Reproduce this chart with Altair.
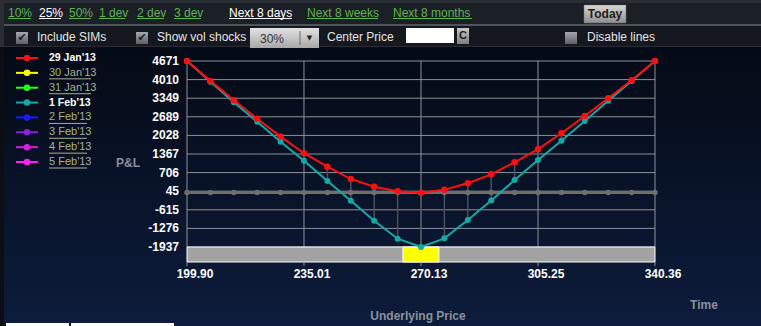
import altair as alt
import pandas as pd

# ---------------- data ----------------
prices = [199.90, 206.92, 213.95, 220.97, 227.99, 235.01, 242.04, 249.06, 256.08, 263.11,
          270.13, 277.15, 284.18, 291.20, 298.22, 305.25, 312.27, 319.29, 326.32, 333.34, 340.36]
pnl_29jan = [4671, 3965, 3275, 2620, 1985, 1395, 915, 478, 205, 40, -8,
             98, 326, 645, 1072, 1540, 2105, 2715, 3345, 3990, 4671]
pnl_1feb = [4671, 3935, 3203, 2514, 1804, 1129, 407, -293, -1003, -1643, -1937,
            -1629, -978, -282, 440, 1154, 1839, 2539, 3260, 3960, 4671]
pnl_zero = [0, 0, 0, 0, 0, 0, 0, 0, 0, 0, 0, 0, 0, 0, 0, 0, 0, 0, 0, 0, 0]

y_tick_values = [4671, 4010, 3349, 2689, 2028, 1367, 706, 45, -615, -1276, -1937]
x_tick_values = [199.90, 235.01, 270.13, 305.25, 340.36]
x_tick_labels = ["199.90", "235.01", "270.13", "305.25", "340.36"]

legend_labels = ["29 Jan'13", "30 Jan'13", "31 Jan'13", "1 Feb'13",
                 "2 Feb'13", "3 Feb'13", "4 Feb'13", "5 Feb'13"]
legend_colors = ["#ff1010", "#ffff00", "#22ff22", "#14a8a8",
                 "#1a1aff", "#8a22d8", "#cc22dd", "#ff22ff"]
legend_active = [True, False, False, True, False, False, False, False]

price_range = [199.90, 340.36]
sim_window = [264.70, 275.50]

menu_items = ["10%", "25%", "50%", "1 dev", "2 dev", "3 dev",
              "Next 8 days", "Next 8 weeks", "Next 8 months"]
menu_active = [False, True, False, False, False, False, True, False, False]
option_labels = ["Include SIMs", "Show vol shocks", "Center Price", "Disable lines"]

# ---------------- layout ----------------
W, H = 761, 326
XS = alt.Scale(domain=[price_range[0], price_range[1]], range=[187, 655], nice=False, zero=False)
YS = alt.Scale(domain=[-1937, 4671], range=[247, 61], nice=False, zero=False)
PX = alt.Scale(domain=[0, W], range=[0, W], nice=False, zero=False)
PY = alt.Scale(domain=[0, H], range=[0, H], nice=False, zero=False)
LY = alt.Scale(domain=[0, 7], range=[58, 162], nice=False, zero=False)
LYU = alt.Scale(domain=[0, 7], range=[64, 168], nice=False, zero=False)

GREEN = "#5fb34f"
LABEL_GRAY = "#8a909b"
FONT = "Liberation Sans"
NARROW = "Liberation Sans Narrow, Liberation Sans"

ONE = pd.DataFrame({"k": [0]})


def grad(top, bottom):
    return alt.Gradient(gradient="linear", x1=0, x2=0, y1=0, y2=1,
                        stops=[alt.GradientStop(color=top, offset=0),
                               alt.GradientStop(color=bottom, offset=1)])


def box(x, x2, y, y2, fill, **kw):
    return alt.Chart(ONE).mark_rect(fill=fill, **kw).encode(
        x=alt.value(x), x2=alt.value(x2), y=alt.value(y), y2=alt.value(y2))


def ptext(rows, **kw):
    df = pd.DataFrame(rows, columns=["t", "x", "y", "c"])
    return alt.Chart(df).mark_text(baseline="middle", **kw).encode(
        x=alt.X("x:Q", scale=PX, axis=None),
        y=alt.Y("y:Q", scale=PY, axis=None),
        text="t:N",
        color=alt.Color("c:N", scale=None))


def prules(rows, **kw):
    df = pd.DataFrame(rows, columns=["x", "x2", "y", "y2", "c"])
    return alt.Chart(df).mark_rule(**kw).encode(
        x=alt.X("x:Q", scale=PX, axis=None), x2="x2:Q",
        y=alt.Y("y:Q", scale=PY, axis=None), y2="y2:Q",
        color=alt.Color("c:N", scale=None))


layers = []

# background
layers.append(box(0, W, 0, H, grad("#03070e", "#0d1c3c")))
layers.append(box(0, 4, 47, H, "#0b0f15"))
# toolbar
layers.append(box(0, W, 0, 47, "#2a2e34"))
layers.append(box(4, W, 3, 24, "#1b2027"))
layers.append(box(4, W, 24, 26, "#4f555d"))
layers.append(box(4, W, 26, 46, "#15191f"))
# bottom tabs
layers.append(box(6, 69, 323, H, "#ffffff"))
layers.append(box(71, 174, 323, H, "#ffffff"))

# grid
hgrid = pd.DataFrame({"v": y_tick_values, "a": price_range[0], "b": price_range[1]})
layers.append(alt.Chart(hgrid).mark_rule(color="#8e9197", strokeWidth=1).encode(
    y=alt.Y("v:Q", scale=YS, axis=None),
    x=alt.X("a:Q", scale=XS, axis=None), x2="b:Q"))
vgrid = pd.DataFrame({"p": x_tick_values, "lo": -1937, "hi": 4671})
layers.append(alt.Chart(vgrid).mark_rule(color="#8e9197", strokeWidth=1).encode(
    x=alt.X("p:Q", scale=XS, axis=None),
    y=alt.Y("lo:Q", scale=YS, axis=None), y2="hi:Q"))

# bottom price strip
strip = pd.DataFrame({"a": [price_range[0], sim_window[0]], "b": [price_range[1], sim_window[1]],
                      "f": ["#a3a3a3", "#ffff00"]})
layers.append(alt.Chart(strip).mark_rect(stroke="#ffffff", strokeWidth=1).encode(
    x=alt.X("a:Q", scale=XS, axis=None), x2="b:Q",
    y=alt.value(247), y2=alt.value(262),
    fill=alt.Fill("f:N", scale=None)))
ticks = pd.DataFrame({"p": x_tick_values})
layers.append(alt.Chart(ticks).mark_rule(color="#8e9197").encode(
    x=alt.X("p:Q", scale=XS, axis=None), y=alt.value(262), y2=alt.value(266)))

# series
df = pd.DataFrame({"price": prices, "red": pnl_29jan, "teal": pnl_1feb, "zero": pnl_zero})
X = alt.X("price:Q", scale=XS, axis=None)
layers.append(alt.Chart(df).mark_rule(color="#4b5059", strokeWidth=1.5).encode(
    x=X, y=alt.Y("red:Q", scale=YS, axis=None), y2="teal:Q"))
layers.append(alt.Chart(df).mark_line(color="#6e6e6e", strokeWidth=3).encode(
    x=X, y=alt.Y("zero:Q", scale=YS, axis=None)))
layers.append(alt.Chart(df).mark_circle(color="#6e6e6e", size=30, opacity=1).encode(
    x=X, y=alt.Y("zero:Q", scale=YS, axis=None)))
layers.append(alt.Chart(df).mark_line(color="#14a8a8", strokeWidth=2).encode(
    x=X, y=alt.Y("teal:Q", scale=YS, axis=None)))
layers.append(alt.Chart(df).mark_circle(color="#14a8a8", size=36, opacity=1).encode(
    x=X, y=alt.Y("teal:Q", scale=YS, axis=None)))
layers.append(alt.Chart(df).mark_line(color="#ff1010", strokeWidth=2).encode(
    x=X, y=alt.Y("red:Q", scale=YS, axis=None)))
layers.append(alt.Chart(df).mark_circle(color="#ff1010", size=42, opacity=1).encode(
    x=X, y=alt.Y("red:Q", scale=YS, axis=None)))

# tick labels
ylab = pd.DataFrame({"v": y_tick_values, "t": [str(v) for v in y_tick_values]})
layers.append(alt.Chart(ylab).mark_text(align="right", baseline="middle", font=NARROW,
                                         fontSize=12, fontWeight="bold", color="#ffffff").encode(
    y=alt.Y("v:Q", scale=YS, axis=None), x=alt.value(179), text="t:N"))
xlab = pd.DataFrame({"p": x_tick_values, "t": x_tick_labels})
layers.append(alt.Chart(xlab).mark_text(align="center", baseline="middle", font=NARROW,
                                         fontSize=12, fontWeight="bold", color="#ffffff", dx=8).encode(
    x=alt.X("p:Q", scale=XS, axis=None), y=alt.value(274), text="t:N"))

# axis titles
layers.append(ptext([["P&L", 128, 163, LABEL_GRAY], ["Underlying Price", 418, 316, LABEL_GRAY],
                     ["Time", 704, 305, LABEL_GRAY]],
                    align="center", font=FONT, fontSize=12, fontWeight="bold"))

# legend
leg = pd.DataFrame({"i": list(range(8)), "label": legend_labels, "col": legend_colors,
                    "active": legend_active})
leg["u0"] = 49
leg["u1"] = [91 if "Jan" in s else 87 for s in legend_labels]
LYE = alt.Y("i:Q", scale=LY, axis=None)
layers.append(alt.Chart(leg).mark_rule(strokeWidth=2).encode(
    x=alt.value(16), x2=alt.value(38), y=LYE, color=alt.Color("col:N", scale=None)))
layers.append(alt.Chart(leg).mark_circle(size=42, opacity=1).encode(
    x=alt.value(27), y=LYE, color=alt.Color("col:N", scale=None)))
act = leg[leg["active"]]
ina = leg[~leg["active"]]
layers.append(alt.Chart(act).mark_text(align="left", baseline="middle", font=FONT, fontSize=10.5,
                                        fontWeight="bold", color="#ffffff").encode(
    x=alt.value(49), y=LYE, text="label:N"))
layers.append(alt.Chart(ina).mark_text(align="left", baseline="middle", font=FONT, fontSize=11,
                                        color="#a9b08d").encode(
    x=alt.value(49), y=LYE, text="label:N"))
layers.append(alt.Chart(ina).mark_rule(color="#a9b08d", strokeWidth=1).encode(
    x=alt.X("u0:Q", scale=PX, axis=None), x2="u1:Q",
    y=alt.Y("i:Q", scale=LYU, axis=None)))

# top menu
menu_x = [8, 39, 69, 99, 137, 174, 229, 307, 393]
menu_end = [31, 61, 91, 125, 164, 201, 292, 378, 472]
menu_rows = [[t, x, 13, ("#ffffff" if a else GREEN)] for t, x, a in zip(menu_items, menu_x, menu_active)]
layers.append(ptext(menu_rows, align="left", font=FONT, fontSize=12))
layers.append(prules([[x, e, 18.5, 18.5, ("#ffffff" if a else GREEN)]
                      for x, e, a in zip(menu_x, menu_end, menu_active)], strokeWidth=1))

# Today button
layers.append(box(584, 626, 5, 23, grad("#d8d8d8", "#8e8e8e"), stroke="#6a6a6a", strokeWidth=0.5))
layers.append(ptext([["Today", 605, 14, "#1e1e1e"]], align="center", font=FONT, fontSize=12,
                    fontWeight="bold"))

# option row
layers.append(ptext([[option_labels[0], 37, 37, "#e4e4e4"], [option_labels[1], 157, 37, "#e4e4e4"],
                     [option_labels[2], 327, 37, "#e4e4e4"], [option_labels[3], 587, 37, "#e4e4e4"]],
                    align="left", font=FONT, fontSize=12))
for cx in (16, 136):
    layers.append(box(cx, cx + 12, 32, 44, grad("#a4a8ae", "#5c6066")))
    layers.append(ptext([["\u2714", cx + 6, 37.5, "#1c2026"]], align="center",
                        font="DejaVu Sans", fontSize=11))
layers.append(box(565, 577, 32, 44, grad("#a4a8ae", "#5c6066")))
# dropdown
layers.append(box(250, 319, 28, 48, grad("#e2e2e2", "#a8a8a8")))
layers.append(prules([[300, 300, 31, 45, "#6a6a6a"]], strokeWidth=1))
layers.append(ptext([["30%", 272, 39, "#333333"]], align="center", font=FONT, fontSize=12))
layers.append(ptext([["\u25bc", 309.5, 38, "#222222"]], align="center", font="DejaVu Sans", fontSize=7))
# center price input and C button
layers.append(box(406, 454, 28, 43, "#ffffff"))
layers.append(box(457, 469, 28, 44, grad("#c8c8c8", "#7e7e7e")))
layers.append(ptext([["C", 463, 36, "#1e1e1e"]], align="center", font=FONT, fontSize=11,
                    fontWeight="bold"))

chart = alt.layer(*layers).resolve_scale(
    x="independent", y="independent"
).properties(
    width=W, height=H, padding=0,
    autosize=alt.AutoSizeParams(type="none"),
    background="#05090f"
).configure_view(stroke=None)

chart.save("out.html", embed_options={"renderer": "svg", "actions": False})
